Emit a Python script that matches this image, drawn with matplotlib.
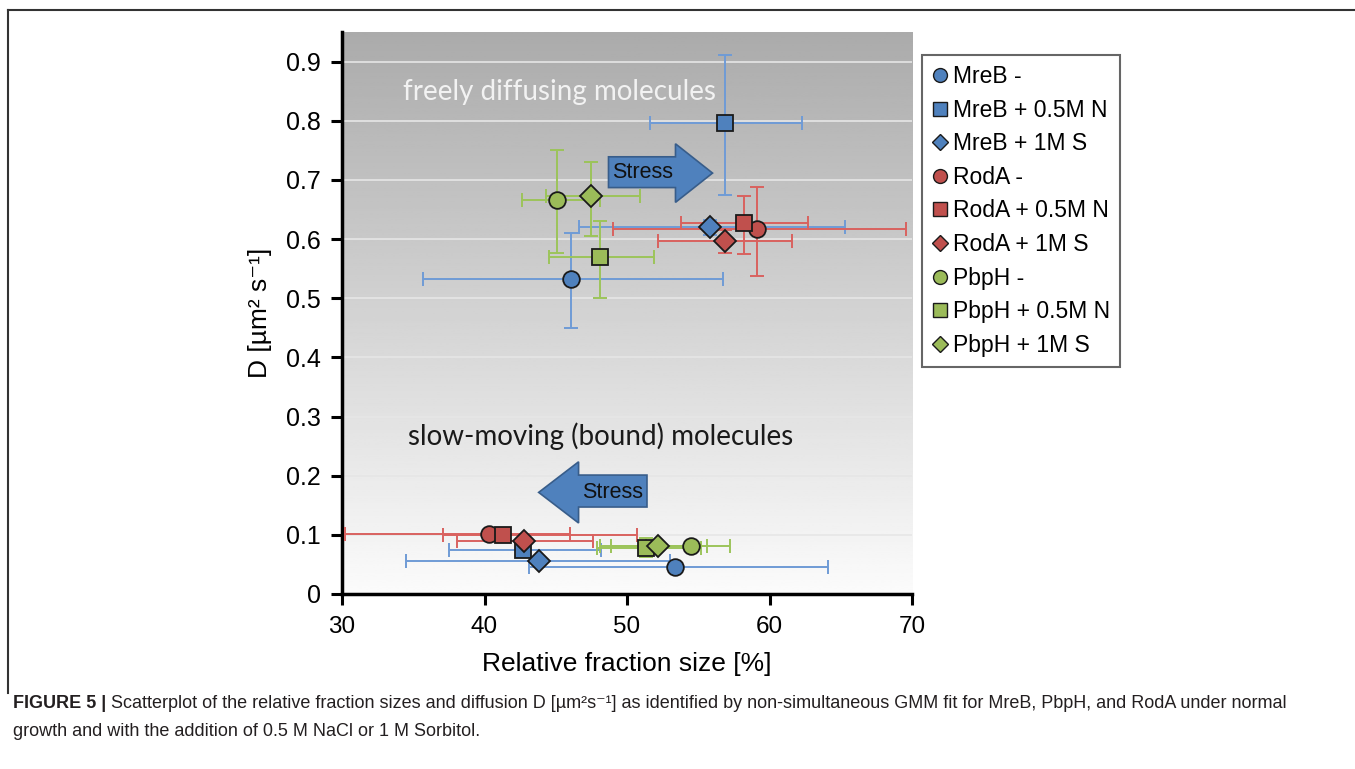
import numpy as np
import matplotlib
matplotlib.use("Agg")
import matplotlib.pyplot as plt
from matplotlib.lines import Line2D
from matplotlib.patches import Polygon

plt.rcParams['font.family'] = ['Liberation Sans', 'DejaVu Sans']

# series order: MreB, RodA, PbpH x (normal, 0.5M NaCl, 1M sorbitol)
labels = ["MreB -", "MreB + 0.5M N", "MreB + 1M S",
          "RodA -", "RodA + 0.5M N", "RodA + 1M S",
          "PbpH -", "PbpH + 0.5M N", "PbpH + 1M S"]

# freely diffusing fraction
free_x = [46.1, 56.9, 55.8, 59.1, 58.2, 56.9, 45.1, 48.1, 47.5]
free_y = [0.532, 0.796, 0.620, 0.617, 0.627, 0.596, 0.666, 0.569, 0.673]
free_xlo = [35.7, 51.6, 46.6, 49.0, 53.8, 52.2, 42.6, 44.5, 44.3]
free_xhi = [56.7, 62.3, 65.3, 69.6, 62.7, 61.6, 48.1, 51.9, 50.9]
free_ylo = [0.450, 0.675, 0.607, 0.537, 0.574, 0.577, 0.576, 0.500, 0.605]
free_yhi = [0.610, 0.911, 0.633, 0.688, 0.672, 0.615, 0.750, 0.631, 0.731]

# slow-moving (bound) fraction
bound_x = [53.4, 42.7, 43.8, 40.3, 41.3, 42.8, 54.5, 51.3, 52.2]
bound_y = [0.046, 0.075, 0.055, 0.101, 0.100, 0.089, 0.081, 0.078, 0.081]
bound_xlo = [43.1, 37.5, 34.5, 30.2, 37.1, 38.1, 48.1, 47.9, 48.9]
bound_xhi = [64.1, 48.2, 53.0, 46.0, 50.7, 47.6, 55.6, 55.2, 57.2]
bound_ylo = [0.040, 0.068, 0.048, 0.095, 0.094, 0.080, 0.075, 0.062, 0.075]
bound_yhi = [0.052, 0.081, 0.061, 0.107, 0.106, 0.097, 0.087, 0.094, 0.087]

fill = {"MreB": "#4f81bd", "RodA": "#c0504d", "PbpH": "#9bbb59"}
bar = {"MreB": "#6f9bd6", "RodA": "#d9625f", "PbpH": "#9cc45a"}
shapes = ["o", "s", "D"]
sizes = [12, 12, 11]

fig = plt.figure(figsize=(13.55, 7.69), dpi=100)
ax = fig.add_axes([0.2524, 0.2276, 0.4207, 0.7308])

# grey background gradient
grad = np.linspace(0.985, 0.67, 256).reshape(-1, 1)
ax.imshow(grad, extent=[30, 70, 0, 0.95], origin="lower", aspect="auto",
          cmap="gray", vmin=0, vmax=1, zorder=0)
for gy in np.arange(0.1, 0.95, 0.1):
    ax.axhline(gy, color="#e6e6e6", lw=1.2, zorder=1)


def draw_points(xs, ys, xlo, xhi, ylo, yhi):
    for i, lab in enumerate(labels):
        prot = lab.split()[0]
        ax.errorbar(xs[i], ys[i],
                    xerr=[[xs[i] - xlo[i]], [xhi[i] - xs[i]]],
                    yerr=[[ys[i] - ylo[i]], [yhi[i] - ys[i]]],
                    fmt="none", ecolor=bar[prot], elinewidth=1.4,
                    capsize=5, capthick=1.4, zorder=3)
    for i, lab in enumerate(labels):
        prot = lab.split()[0]
        k = i % 3
        ax.plot(xs[i], ys[i], marker=shapes[k], ms=sizes[k], mfc=fill[prot],
                mec="#1a1a1a", mew=1.3, ls="none", zorder=5)


draw_points(free_x, free_y, free_xlo, free_xhi, free_ylo, free_yhi)
draw_points(bound_x, bound_y, bound_xlo, bound_xhi, bound_ylo, bound_yhi)

# "Stress" arrows
up = Polygon([(48.7, 0.687), (53.4, 0.687), (53.4, 0.662), (56.0, 0.7115),
              (53.4, 0.761), (53.4, 0.739), (48.7, 0.739)],
             closed=True, fc="#4f81bd", ec="#385d8a", lw=1.2, zorder=4)
ax.add_patch(up)
ax.text(51.1, 0.712, "Stress", fontsize=15.5, ha="center", va="center",
        color="#111111", zorder=6)
down = Polygon([(51.4, 0.147), (46.6, 0.147), (46.6, 0.120), (43.8, 0.1717),
                (46.6, 0.2234), (46.6, 0.201), (51.4, 0.201)],
               closed=True, fc="#4f81bd", ec="#385d8a", lw=1.2, zorder=4)
ax.add_patch(down)
ax.text(49.0, 0.172, "Stress", fontsize=15.5, ha="center", va="center",
        color="#111111", zorder=6)

ax.text(34.3, 0.848, "freely diffusing molecules", fontsize=20,
        family="Lato", color="#f2f2f2", ha="left", va="center", zorder=2)
ax.text(34.6, 0.267, "slow-moving (bound) molecules", fontsize=20,
        family="Lato", color="#1a1a1a", ha="left", va="center", zorder=2)

ax.set_xlim(30, 70)
ax.set_ylim(0, 0.95)
ax.set_xticks(np.arange(30, 71, 10))
ax.set_yticks(np.round(np.arange(0, 0.91, 0.1), 1))
ax.set_yticklabels(["0"] + ["%.1f" % v for v in np.arange(0.1, 0.91, 0.1)])
ax.tick_params(labelsize=17.5, length=8, width=2.2, direction="out",
               colors="black")
ax.tick_params(axis="x", pad=8)
ax.tick_params(axis="y", labelsize=18, pad=7)
for s in ["top", "right"]:
    ax.spines[s].set_visible(False)
for s in ["left", "bottom"]:
    ax.spines[s].set_linewidth(2.5)
ax.set_xlabel("Relative fraction size [%]", fontsize=19, labelpad=10)
ax.set_ylabel("D [µm² s⁻¹]", fontsize=19, labelpad=10)

handles = [Line2D([], [], marker=shapes[i % 3], ls="none",
                  mfc=fill[labels[i].split()[0]], mec="#1a1a1a", mew=1.0,
                  ms=[10, 10, 8][i % 3]) for i in range(len(labels))]
leg = fig.legend(handles, labels, loc="upper left",
                 bbox_to_anchor=(0.6804, 0.9285), fontsize=16.5,
                 frameon=True, fancybox=False, handlelength=0.7,
                 handletextpad=0.2, labelspacing=0.46, borderpad=0.45,
                 borderaxespad=0)
leg.get_frame().set_edgecolor("#404040")
leg.get_frame().set_linewidth(1.5)

# outer frame lines
fig.add_artist(Line2D([8 / 1355, 1], [1 - 10 / 769, 1 - 10 / 769],
                      color="#333333", lw=1.5))
fig.add_artist(Line2D([8 / 1355, 8 / 1355], [1 - 10 / 769, 1 - 693 / 769],
                      color="#333333", lw=1.5))

# caption
fig.canvas.draw()
rend = fig.canvas.get_renderer()
t1 = fig.text(13 / 1355, 1 - 703 / 769, "FIGURE 5 | ", fontsize=13,
              weight="bold", color="#231f20", va="center")
bb = t1.get_window_extent(rend)
fig.text(bb.x1 / fig.bbox.width, 1 - 703 / 769,
         "Scatterplot of the relative fraction sizes and diffusion D [µm²s⁻¹] as identified by "
         "non-simultaneous GMM fit for MreB, PbpH, and RodA under normal",
         fontsize=13, color="#231f20", va="center")
fig.text(13 / 1355, 1 - 731 / 769,
         "growth and with the addition of 0.5 M NaCl or 1 M Sorbitol.",
         fontsize=13, color="#231f20", va="center")

fig.savefig("out.png", dpi=100)
